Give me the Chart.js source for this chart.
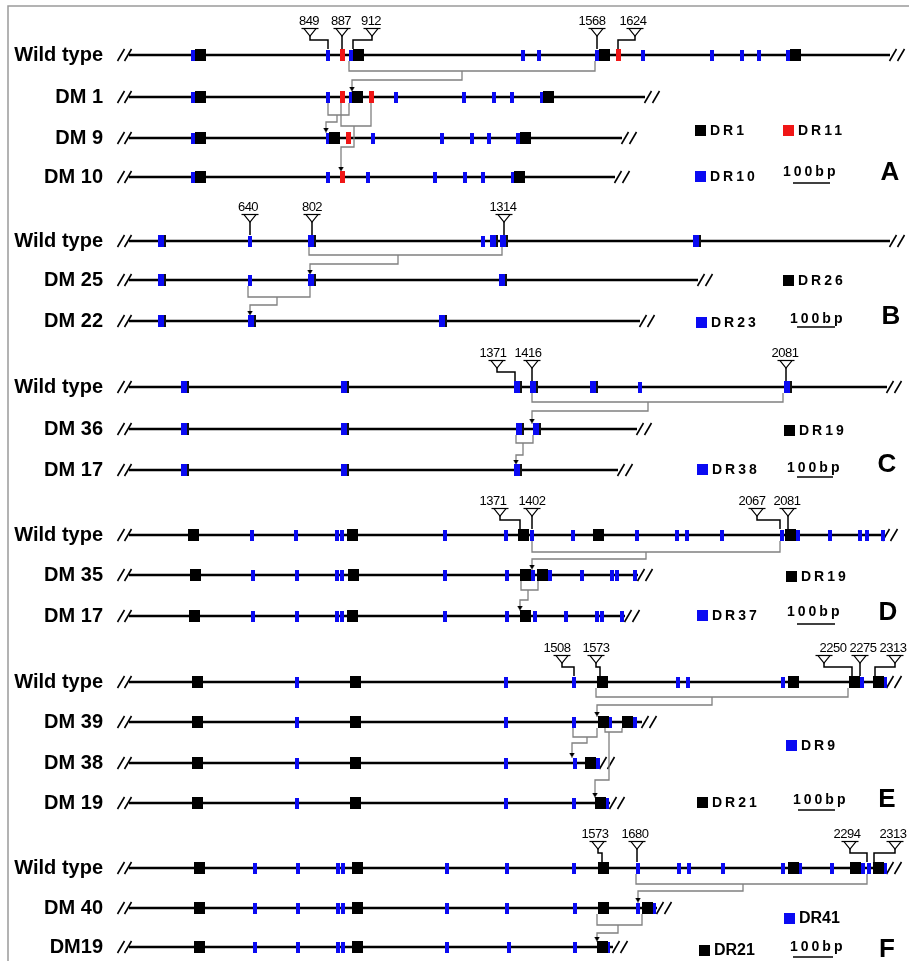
<!DOCTYPE html>
<html>
<head>
<meta charset="utf-8">
<script src="https://cdn.jsdelivr.net/npm/chart.js@4.4.1/dist/chart.umd.min.js"></script>
<style>
  html, body { margin: 0; padding: 0; background: #fff; }
  #c { display: block; }
</style>
</head>
<body>
<canvas id="c" width="909" height="961"></canvas>
<script>
// ---- data: rows (one line per construct), repeat positions along each line ----
var rowLabels = ['Wild type', 'DM 1', 'DM 9', 'DM 10',
  'Wild type', 'DM 25', 'DM 22',
  'Wild type', 'DM 36', 'DM 17',
  'Wild type', 'DM 35', 'DM 17',
  'Wild type', 'DM 39', 'DM 38', 'DM 19',
  'Wild type', 'DM 40', 'DM19'];
var rowEnd = [890, 645, 622, 615, 890, 698, 640, 887, 637, 618, 883, 638, 625, 887, 642, 600, 610, 887, 657, 613];

var blueMarks = [
  [193, 328, 351, 523, 539, 597, 643, 712, 742, 759, 788],
  [193, 328, 351, 396, 464, 494, 512, 542],
  [193, 328, 373, 442, 472, 489, 518],
  [193, 328, 368, 435, 465, 483, 513],
  [250, 483],
  [250],
  [],
  [640],
  [],
  [],
  [252, 296, 337, 342, 445, 506, 532, 573, 637, 677, 687, 722, 782, 798, 830, 860, 867, 883],
  [253, 297, 337, 342, 445, 507, 533, 550, 582, 612, 617, 635],
  [253, 297, 337, 342, 445, 507, 535, 566, 597, 602, 622],
  [297, 506, 574, 678, 688, 783, 862, 885],
  [297, 506, 574, 610, 635],
  [297, 506, 575, 598],
  [297, 506, 574, 607],
  [255, 298, 338, 343, 447, 507, 574, 638, 679, 689, 723, 783, 800, 832, 863, 869, 885],
  [255, 298, 338, 343, 447, 507, 575, 638, 654],
  [255, 298, 338, 343, 447, 509, 575, 608]
];
var blackMarks = [
  [200, 358, 604, 795],
  [200, 357, 548],
  [200, 334, 525],
  [200, 519],
  [], [], [],
  [], [], [],
  [193, 352, 523, 598, 790],
  [195, 353, 525, 542],
  [194, 352, 525],
  [197, 355, 602, 793, 854, 878],
  [197, 355, 603, 627],
  [197, 355, 590],
  [197, 355, 600],
  [199, 357, 603, 793, 855, 878],
  [199, 357, 603, 647],
  [199, 357, 602]
];
var redMarks = [[342, 618], [342, 371], [348], [342]];
var boxMarks = [
  [], [], [], [],
  [162, 312, 494, 504, 697],
  [162, 312, 503],
  [162, 252, 443],
  [185, 345, 518, 534, 594, 788],
  [185, 345, 520, 537],
  [185, 345, 518]
];

// flagged repeat positions (numbers above the wild type lines)
var flagLabels = ['849', '887', '912', '1568', '1624',
  '640', '802', '1314',
  '1371', '1416', '2081',
  '1371', '1402', '2067', '2081',
  '1508', '1573', '2250', '2275', '2313',
  '1573', '1680', '2294', '2313'];
var flagRow = [0, 0, 0, 0, 0, 4, 4, 4, 7, 7, 7, 10, 10, 10, 10, 13, 13, 13, 13, 13, 17, 17, 17, 17];
var flagTextX = [309, 341, 371, 592, 633, 248, 312, 503, 493, 528, 785, 493, 532, 752, 787, 557, 596, 833, 863, 893, 595, 635, 847, 893];
var flagTri = [310, 342, 372, 597, 635, 250, 312, 504, 497, 532, 786, 500, 532, 757, 788, 562, 596, 824, 860, 895, 598, 637, 850, 895];
var flagMark = [328, 342, 353, 597, 618, 250, 312, 504, 515, 532, 786, 520, 532, 780, 788, 574, 600, 852, 860, 875, 602, 637, 867, 874];

// deletion links: source row -> derived row
var linkFrom = [0, 1, 1, 4, 5, 7, 8, 10, 11, 13, 14, 14, 17, 18];
var linkTo = [1, 2, 3, 5, 6, 8, 9, 11, 12, 14, 15, 16, 18, 19];
var linkA = [349, 328, 341, 309, 248, 532, 516, 532, 521, 596, 573, 605, 636, 597];
var linkB = [595, 349, 371, 502, 310, 783, 533, 780, 538, 848, 597, 622, 867, 642];
var linkMid = [462, 337, 354, 398, 277, 648, 523, 646, 528, 712, 587, 609, 743, 618];
var linkTarget = [352, 326, 341, 310, 250, 532, 516, 532, 520, 597, 572, 595, 638, 597];

// legends
var legendText = ['DR1', 'DR11', 'DR10', 'DR26', 'DR23', 'DR19', 'DR38', 'DR19', 'DR37', 'DR9', 'DR21', 'DR41', 'DR21'];
var legendColor = ['k', 'r', 'b', 'k', 'b', 'k', 'b', 'k', 'b', 'b', 'k', 'b', 'k'];
var panelLetters = ['A', 'B', 'C', 'D', 'E', 'F'];

// ---- layout ----
var rowY = [55, 97, 138, 177, 241, 280, 321, 387, 429, 470, 535, 575, 616, 682, 722, 763, 803, 868, 908, 947];
var lineStart = 129;
var linkDrop = [16, 18, 29, 14, 17, 15, 14, 17, 15, 15, 15, 10, 16, 17];
var linkLevel = [25, 25, 50, 23, 25, 24, 26, 24, 25, 23, 21, 58, 23, 25];
var legendX = [700, 788, 700, 788, 701, 789, 702, 791, 702, 791, 702, 789, 704];
var legendY = [130, 130, 176, 280, 322, 430, 469, 576, 615, 745, 802, 918, 950];
var letterX = [890, 891, 887, 888, 887, 887];
var letterY = [173, 317, 465, 613, 800, 950];
var barTextX = [783, 790, 787, 787, 793, 790];
var barTextY = [172, 319, 468, 612, 800, 947];
var barX1 = [793, 797, 797, 797, 798, 793];
var barX2 = [830, 835, 833, 835, 835, 833];
var barY = [183, 327, 477, 624, 810, 957];

var BLUE = '#0a0af2', RED = '#f01616', BLACK = '#000', GRAY = '#808080';

function makeImg(w, h, draw) {
  var c = document.createElement('canvas');
  c.width = w; c.height = h;
  draw(c.getContext('2d'), w, h);
  return c;
}
function solid(color) {
  return function (g, w, h) { g.fillStyle = color; g.fillRect(0, 0, w, h); };
}
var imgBlue = makeImg(4, 11, solid(BLUE));
var imgBlack = makeImg(11, 12, solid(BLACK));
var imgRed = makeImg(5, 12, solid(RED));
var imgBox = makeImg(8, 12, function (g) {
  g.fillStyle = BLUE; g.fillRect(0, 0, 6, 12);
  g.fillStyle = '#111'; g.fillRect(6, 0, 2, 12);
});
var imgFlag = makeImg(18, 10, function (g) {
  g.strokeStyle = '#000'; g.lineWidth = 1.2; g.fillStyle = '#fff';
  g.beginPath(); g.moveTo(3, 1.5); g.lineTo(15, 1.5); g.lineTo(9, 9); g.closePath();
  g.fill(); g.stroke();
  g.beginPath(); g.moveTo(0.5, 1.5); g.lineTo(17.5, 1.5); g.stroke();
});
var imgArrow = makeImg(6, 5, function (g) {
  g.fillStyle = '#000'; g.beginPath(); g.moveTo(0, 0); g.lineTo(6, 0); g.lineTo(3, 5); g.closePath(); g.fill();
});
var legImgs = { k: makeImg(11, 11, solid(BLACK)), r: makeImg(11, 11, solid(RED)), b: makeImg(11, 11, solid(BLUE)) };

var datasets = [];
function poly(points, color, width, order) {
  datasets.push({ data: points, showLine: true, borderColor: color, borderWidth: width,
    pointRadius: 0, fill: false, tension: 0, order: order, clip: false });
}
function marks(points, img, order) {
  datasets.push({ data: points, showLine: false, pointStyle: img, pointRadius: 5, order: order, clip: false });
}

// lines with break marks
rowY.forEach(function (yy, i) {
  poly([{ x: lineStart, y: yy }, { x: rowEnd[i], y: yy }], BLACK, 2.6, 10);
  [121, 128, rowEnd[i] + 3, rowEnd[i] + 11].forEach(function (cx) {
    poly([{ x: cx - 3.5, y: yy + 6 }, { x: cx + 3.5, y: yy - 6 }], BLACK, 1.6, 10);
  });
});

// repeat marks
function collect(list) {
  var pts = [];
  list.forEach(function (xs, i) { xs.forEach(function (x) { pts.push({ x: x, y: rowY[i] }); }); });
  return pts;
}
marks(collect(blueMarks), imgBlue, 3);
marks(collect(boxMarks), imgBox, 3);
marks(collect(blackMarks), imgBlack, 2);
marks(collect(redMarks), imgRed, 1);

// links between rows
var arrows = [];
linkFrom.forEach(function (r, i) {
  var sy = rowY[r], dy = rowY[linkTo[i]];
  var by = sy + linkDrop[i], ly = sy + linkLevel[i], tip = dy - 9;
  poly([{ x: linkA[i], y: sy + 6 }, { x: linkA[i], y: by }, { x: linkB[i], y: by }, { x: linkB[i], y: sy + 6 }], GRAY, 1.3, 9);
  poly([{ x: linkMid[i], y: by }, { x: linkMid[i], y: ly }, { x: linkTarget[i], y: ly }, { x: linkTarget[i], y: tip }], GRAY, 1.3, 9);
  arrows.push({ x: linkTarget[i], y: tip + 1 });
});
marks(arrows, imgArrow, 4);

// flags
var flagPts = [];
flagLabels.forEach(function (t, i) {
  var yy = rowY[flagRow[i]], tx = flagTri[i], mx = flagMark[i];
  flagPts.push({ x: tx, y: yy - 23 });
  if (tx === mx) {
    poly([{ x: tx, y: yy - 19 }, { x: tx, y: yy - 6 }], BLACK, 1.5, 8);
  } else {
    poly([{ x: tx, y: yy - 19 }, { x: tx, y: yy - 15 }, { x: mx, y: yy - 15 }, { x: mx, y: yy - 6 }], BLACK, 1.5, 8);
  }
});
marks(flagPts, imgFlag, 4);

// legend squares and scale bars
legendText.forEach(function (t, i) {
  marks([{ x: legendX[i], y: legendY[i] }], legImgs[legendColor[i]], 4);
});
barY.forEach(function (yy, i) {
  poly([{ x: barX1[i], y: yy }, { x: barX2[i], y: yy }], BLACK, 1.6, 8);
});

var textPlugin = {
  id: 'texts',
  beforeDraw: function (chart) {
    var ctx = chart.ctx;
    ctx.save();
    ctx.fillStyle = '#fff';
    ctx.fillRect(0, 0, chart.width, chart.height);
    ctx.strokeStyle = '#9a9a9a';
    ctx.lineWidth = 1.5;
    ctx.beginPath();
    ctx.moveTo(8, chart.height); ctx.lineTo(8, 6); ctx.lineTo(chart.width, 6);
    ctx.stroke();
    ctx.restore();
  },
  afterDatasetsDraw: function (chart) {
    var ctx = chart.ctx, sx = chart.scales.x, sy = chart.scales.y;
    ctx.save();
    ctx.fillStyle = '#000';
    ctx.textBaseline = 'middle';

    ctx.font = 'bold 20px "Liberation Sans", Arial, sans-serif';
    ctx.textAlign = 'right';
    rowLabels.forEach(function (t, i) {
      ctx.fillText(t, sx.getPixelForValue(103), sy.getPixelForValue(rowY[i]));
    });

    ctx.font = '13px "Liberation Sans", Arial, sans-serif';
    ctx.textAlign = 'center';
    if ('letterSpacing' in ctx) ctx.letterSpacing = '-0.5px';
    flagLabels.forEach(function (t, i) {
      ctx.fillText(t, sx.getPixelForValue(flagTextX[i]), sy.getPixelForValue(rowY[flagRow[i]] - 34));
    });

    ctx.textAlign = 'left';
    legendText.forEach(function (t, i) {
      var big = i >= 11;
      ctx.font = big ? 'bold 16px "Liberation Sans", Arial, sans-serif' : 'bold 14px "Liberation Sans", Arial, sans-serif';
      if ('letterSpacing' in ctx) ctx.letterSpacing = big ? '0px' : '3px';
      ctx.fillText(t, sx.getPixelForValue(legendX[i] + 10), sy.getPixelForValue(legendY[i] + 1));
    });

    ctx.font = 'bold 14px "Liberation Sans", Arial, sans-serif';
    if ('letterSpacing' in ctx) ctx.letterSpacing = '3px';
    barTextX.forEach(function (x, i) {
      ctx.fillText('100bp', sx.getPixelForValue(x), sy.getPixelForValue(barTextY[i]));
    });

    if ('letterSpacing' in ctx) ctx.letterSpacing = '0px';
    ctx.font = 'bold 26px "Liberation Sans", Arial, sans-serif';
    ctx.textAlign = 'center';
    panelLetters.forEach(function (t, i) {
      ctx.fillText(t, sx.getPixelForValue(letterX[i]), sy.getPixelForValue(letterY[i]));
    });
    ctx.restore();
  }
};

new Chart(document.getElementById('c'), {
  type: 'scatter',
  data: { datasets: datasets },
  options: {
    responsive: false,
    animation: false,
    devicePixelRatio: 1,
    events: [],
    layout: { padding: 0, autoPadding: false },
    plugins: { legend: { display: false }, tooltip: { enabled: false } },
    scales: {
      x: { type: 'linear', min: 0, max: 909, display: false },
      y: { type: 'linear', min: 0, max: 961, reverse: true, display: false }
    }
  },
  plugins: [textPlugin]
});
</script>
</body>
</html>
